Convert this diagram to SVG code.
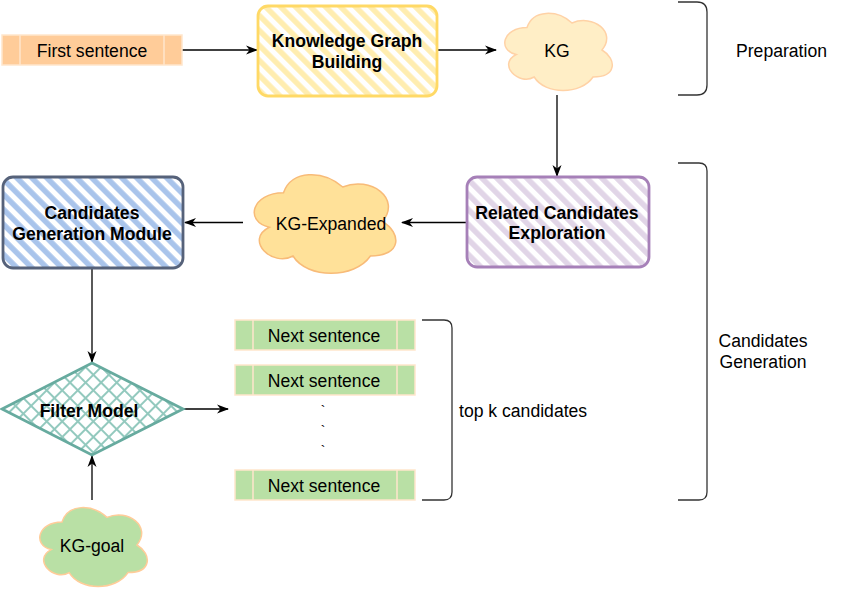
<svg xmlns="http://www.w3.org/2000/svg" width="843" height="591" viewBox="0 0 843 591">
<style>
  text { font-family: "Liberation Sans", Arial, sans-serif; font-size: 17.6px; fill: #000; }
  .b { font-weight: bold; }
  .m { text-anchor: middle; }
  .edge { fill: none; stroke: #000; stroke-width: 1.3; marker-end: url(#arrow); }
  .brace { fill: none; stroke: #333; stroke-width: 1.3; }
  .sent { fill: #b9e0a5; stroke: #ffe6cc; stroke-width: 1.5; }
  .first { fill: #ffcc99; stroke: #ffe6cc; stroke-width: 1.5; }
  .div { stroke: #ffe6cc; stroke-width: 1.5; }
</style>
<defs>
  <marker id="arrow" viewBox="0 0 12 12" refX="11" refY="6" markerWidth="12" markerHeight="12" markerUnits="userSpaceOnUse" orient="auto">
    <path d="M0,1.5 L12,6 L0,10.5 L3.5,6 Z" fill="#000"/>
  </marker>
  <pattern id="hY" patternUnits="userSpaceOnUse" width="10.6" height="10.6" patternTransform="rotate(-45)">
    <line x1="2.8" y1="0" x2="2.8" y2="10.6" stroke="#ffedb0" stroke-width="5.5"/>
  </pattern>
  <pattern id="hP" patternUnits="userSpaceOnUse" width="10.6" height="10.6" patternTransform="rotate(-45)">
    <line x1="2.8" y1="0" x2="2.8" y2="10.6" stroke="#e1d5e7" stroke-width="5.5"/>
  </pattern>
  <pattern id="hB" patternUnits="userSpaceOnUse" width="10.6" height="10.6" patternTransform="rotate(-45)">
    <line x1="2.8" y1="0" x2="2.8" y2="10.6" stroke="#a9c4eb" stroke-width="5.5"/>
  </pattern>
  <pattern id="hX" patternUnits="userSpaceOnUse" width="11" height="11" patternTransform="rotate(45)">
    <line x1="1" y1="0" x2="1" y2="11" stroke="#93c9be" stroke-width="2"/>
    <line x1="0" y1="1" x2="11" y2="1" stroke="#93c9be" stroke-width="2"/>
  </pattern>
</defs>

<g id="connectors">
  <path class="edge" d="M182,50 H257"/>
  <path class="edge" d="M438,50 H496"/>
  <path class="edge" d="M557,95 V176"/>
  <path class="edge" d="M466,222.5 H402"/>
  <path class="edge" d="M243,222.5 H185"/>
  <path class="edge" d="M92,268 V362"/>
  <path class="edge" d="M183,409 H228"/>
  <path class="edge" d="M92,500 V456"/>
</g>

<g id="first-sentence">
  <rect class="first" x="2" y="35" width="180" height="30"/>
  <line class="div" x1="20" y1="35" x2="20" y2="65"/>
  <line class="div" x1="164" y1="35" x2="164" y2="65"/>
  <text class="m" x="92" y="57">First sentence</text>
</g>

<g id="knowledge-graph-building">
  <rect x="258" y="6" width="179" height="90" rx="10" fill="url(#hY)" stroke="#ffd966" stroke-width="2.8"/>
  <text class="m b" x="347" y="47">Knowledge Graph</text>
  <text class="m b" x="347" y="68">Building</text>
</g>

<g id="kg">
  <path d="M527,27.5 C503,27.5 497,50 516.2,54.5 C497,64.4 518.6,86 534.2,77 C545,95 581,95 593,77 C617,77 617,59 602,50 C617,32 593,14 572,23 C557,9.5 533,9.5 527,27.5 Z" fill="#ffeec6" stroke="#ffd2a6" stroke-width="1.5"/>
  <text class="m" x="557" y="57">KG</text>
</g>

<g id="preparation">
  <path class="brace" d="M678,2 H697 Q707,2 707,12 V85 Q707,95 697,95 H678"/>
  <text x="736" y="57">Preparation</text>
</g>

<g id="related-candidates-exploration">
  <rect x="467" y="177" width="182" height="90" rx="10" fill="url(#hP)" stroke="#a680b8" stroke-width="2.8"/>
  <text class="m b" x="557" y="219">Related Candidates</text>
  <text class="m b" x="557" y="239">Exploration</text>
</g>

<g id="kg-expanded">
  <path d="M283.5,192.75 C251.9,192.75 244,221.5 269.3,227.25 C244,239.9 272.4,267.5 293,256 C307.2,279 354.6,279 370.4,256 C402,256 402,233 382.25,221.5 C402,198.5 370.4,175.5 342.75,187 C323,169.75 291.4,169.75 283.5,192.75 Z" fill="#ffe199" stroke="#f8bb78" stroke-width="1.5"/>
  <text class="m" x="331" y="230">KG-Expanded</text>
</g>

<g id="candidates-generation-module">
  <rect x="3" y="177" width="180" height="91" rx="10" fill="url(#hB)" stroke="#56627a" stroke-width="2.8"/>
  <text class="m b" x="92" y="219">Candidates</text>
  <text class="m b" x="92" y="239.5">Generation Module</text>
</g>

<g id="filter-model">
  <path d="M92,363 L183,409 L92,455 L2,409 Z" fill="url(#hX)" stroke="#67ab9f" stroke-width="2.8" stroke-linejoin="miter"/>
  <text class="m b" x="89" y="416.5">Filter Model</text>
</g>

<g id="kg-goal">
  <path d="M62,522 C38,522 32,545 51.2,549.6 C32,559.7 53.6,581.8 69.2,572.6 C80,591 116,591 128,572.6 C152,572.6 152,554.2 137,545 C152,526.6 128,508.2 107,517.4 C92,503.6 68,503.6 62,522 Z" fill="#b9e0a5" stroke="#ffcc99" stroke-width="1.5"/>
  <text class="m" x="92" y="552">KG-goal</text>
</g>

<g id="next-sentence-1">
  <rect class="sent" x="235" y="320" width="180" height="30"/>
  <line class="div" x1="253" y1="320" x2="253" y2="350"/>
  <line class="div" x1="397" y1="320" x2="397" y2="350"/>
  <text class="m" x="324" y="342">Next sentence</text>
</g>

<g id="next-sentence-2">
  <rect class="sent" x="235" y="365" width="180" height="30"/>
  <line class="div" x1="253" y1="365" x2="253" y2="395"/>
  <line class="div" x1="397" y1="365" x2="397" y2="395"/>
  <text class="m" x="324" y="387">Next sentence</text>
</g>

<g id="dots">
  <text class="m" x="323" y="416" style="font-size:14px">`</text>
  <text class="m" x="323" y="436" style="font-size:14px">`</text>
  <text class="m" x="323" y="456" style="font-size:14px">`</text>
</g>

<g id="next-sentence-3">
  <rect class="sent" x="235" y="470" width="180" height="30"/>
  <line class="div" x1="253" y1="470" x2="253" y2="500"/>
  <line class="div" x1="397" y1="470" x2="397" y2="500"/>
  <text class="m" x="324" y="492">Next sentence</text>
</g>

<g id="top-k-candidates">
  <path class="brace" d="M422,320 H444 Q452,320 452,328 V492 Q452,500 444,500 H422"/>
  <text x="459" y="417">top k candidates</text>
</g>

<g id="candidates-generation">
  <path class="brace" d="M678,163 H699 Q707,163 707,171 V492 Q707,500 699,500 H678"/>
  <text class="m" x="763" y="347">Candidates</text>
  <text class="m" x="763" y="368">Generation</text>
</g>
</svg>
